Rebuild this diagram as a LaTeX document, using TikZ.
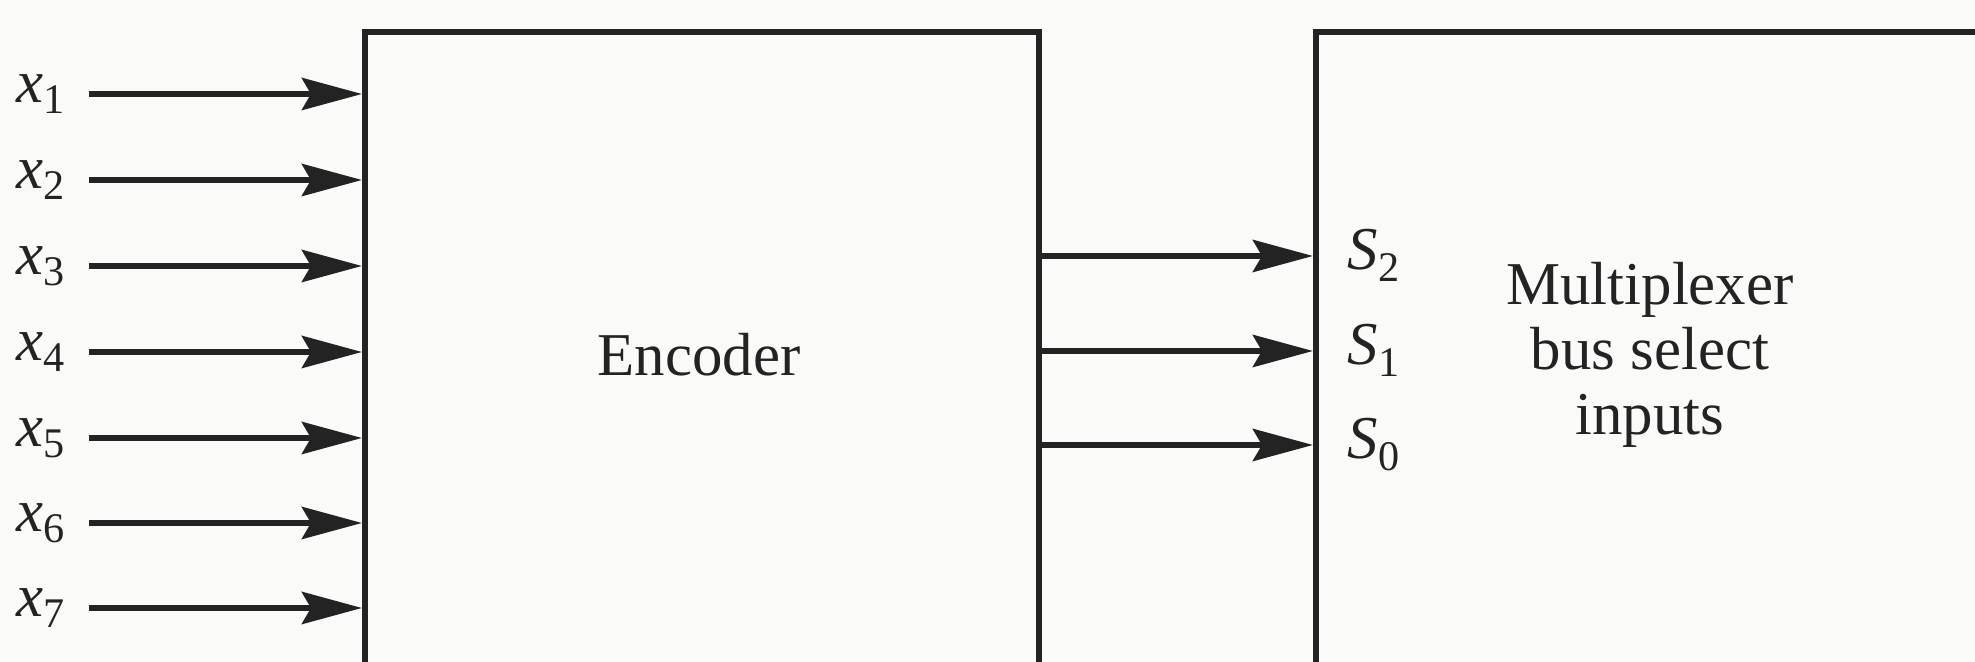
\documentclass[tikz,border=0pt]{standalone}
\usepackage{fontspec}
\setmainfont{Liberation Serif}
\usetikzlibrary{arrows.meta}
\definecolor{ink}{HTML}{232323}
\definecolor{paper}{HTML}{FAFAF8}
\newcommand{\lab}[2]{\textit{#1}\raisebox{-3.2pt}{\fontsize{12}{12}\selectfont #2}}
\begin{document}
\begin{tikzpicture}[x=0.01cm,y=-0.01cm,
  every node/.style={font=\fontsize{17.3}{18.43}\selectfont, text=ink},
  box/.style={draw=ink, line width=1.7pt, anchor=north west, minimum height=8cm, inner sep=0pt},
  lbl/.style={anchor=mid east, inner sep=0pt},
  sel/.style={anchor=base west, inner sep=0pt},
  arr/.style={draw=ink, line width=1.8pt, -{Stealth[length=0.6cm,width=0.32cm,inset=0.09cm]}}]
\useasboundingbox (0,0) rectangle (1975,662);
\clip (0,0) rectangle (1975,662);
\fill[paper] (0,0) rectangle (1975,662);
% blocks
\node[box, minimum width=6.74cm] (enc) at (362,29) {};
\node[box, minimum width=9cm] (mux) at (1313,29) {};
\node[anchor=base] (enctext) at (699,376) {Encoder};
\node[anchor=center, align=center] (muxtext) at (1650,355) {Multiplexer\\bus select\\inputs};
% inputs
\foreach \i/\y in {1/94,2/180,3/266,4/352,5/438,6/523,7/608}{
  \node[lbl] (x\i) at (65,\y) {\lab{x}{\i}};
  \draw[arr] ([xshift=0.24cm]x\i.mid east) -- (x\i.mid east -| enc.west);
}
% select lines
\foreach \i/\y in {2/256,1/351,0/445}{
  \coordinate (r\i) at (0,\y);
  \node[sel] (s\i) at (1347,\y+14) {\lab{S}{\i}};
  \draw[arr] (enc.east |- r\i) -- (mux.west |- r\i);
}
\end{tikzpicture}
\end{document}
